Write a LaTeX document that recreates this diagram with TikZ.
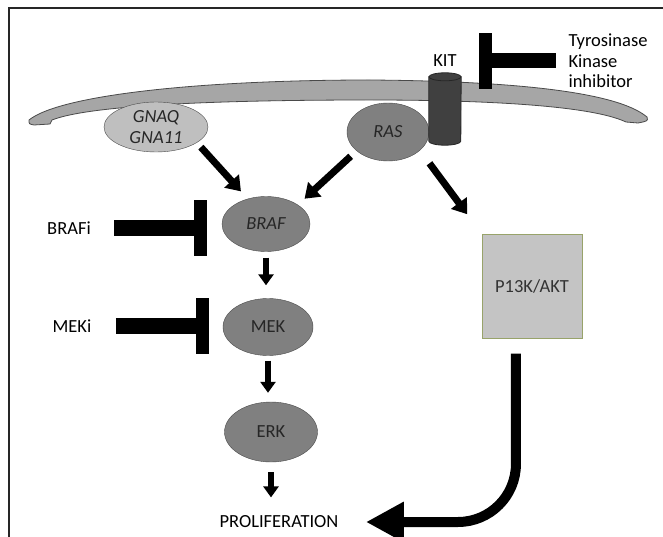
\documentclass[tikz,border=0pt]{standalone}
\usepackage{fontspec}
\setmainfont{Carlito}
\usetikzlibrary{arrows.meta,shapes.geometric,positioning}

\definecolor{memgray}{HTML}{A6A6A6}
\definecolor{edgegray}{HTML}{4A4A4A}
\definecolor{gnagray}{HTML}{BFBFBF}
\definecolor{protgray}{HTML}{808080}
\definecolor{kitgray}{HTML}{404040}
\definecolor{boxgray}{HTML}{C4C4C4}
\definecolor{boxedge}{HTML}{98A36A}
\newcommand\pathwayfont{\fontsize{18.5}{20.5}\selectfont}

\begin{document}
\begin{tikzpicture}[x=1pt,y=-1pt,font=\pathwayfont]
\tikzset{
  membrane/.style={draw=edgegray, fill=memgray, line width=0.8pt},
  protein/.style={ellipse, draw=edgegray, fill=protgray, inner sep=0pt, text=black!85},
  memprot/.style={protein, fill=gnagray, align=center},
  kitcyl/.style={rectangle, minimum width=32pt, minimum height=64pt, inner sep=0pt},
  kitpart/.style={draw=black!85, fill=kitgray, line width=0.8pt},
  pathbox/.style={rectangle, draw=boxedge, fill=boxgray, line width=1pt,
    minimum width=100pt, minimum height=104pt, text=black!80},
  act/.style={line width=7pt, -{Triangle[width=19pt,length=14pt]}},
  flow/.style={line width=5.5pt, -{Triangle[width=15pt,length=11pt]}},
  bigflow/.style={line width=10pt, -{Triangle[width=38pt,length=38pt]}},
  inhib/.style={line width=16pt, -{Rectangle[width=56pt,length=13pt]}}
}
\useasboundingbox (0,0) rectangle (663,537);
\draw[line width=1.5pt, black!85] (9,537) -- (9,8) -- (663,8);

% cell membrane
\draw[membrane] (29,120) .. controls (60,95) and (200,80) .. (370,80)
  .. controls (500,81) and (615,90) .. (647,117)
  .. controls (648,121) .. (638,123) -- (626,122)
  .. controls (590,105) and (480,100) .. (370,100)
  .. controls (220,100) and (90,105) .. (52,120)
  -- (50,124) -- (34,125) .. controls (29,124) .. (29,120) -- cycle;

% proteins
\node[memprot, minimum width=104pt, minimum height=50pt] (gnaq) at (156,127) {\itshape GNAQ\\\itshape GNA11};
\node[protein, minimum width=82pt, minimum height=58pt] (ras) at (388,132) {\itshape RAS};
\node[kitcyl] (kit) at (445,109) {};
\draw[kitpart] (kit.north west) -- (kit.south west)
  arc[start angle=180, end angle=0, x radius=16, y radius=4] -- (kit.north east) -- cycle;
\draw[kitpart] (kit.north) ellipse [x radius=16, y radius=4];
\node[above=7pt of kit] (kitlbl) {KIT};
\node[protein, minimum width=88pt, minimum height=55pt] (braf) at (266,224) {\itshape BRAF};
\node[protein, minimum width=90pt, minimum height=57pt] (mek) at (268,327) {MEK};
\node[protein, minimum width=93pt, minimum height=60pt] (erk) at (271,432) {ERK};
\node[pathbox] (pik) at (532,286) {P13K/AKT};
\node (prolif) at (279,522) {PROLIFERATION};

% inhibitors
\node (brafi) at (69,228) {BRAFi};
\node (meki) at (72,326) {MEKi};
\node[align=left] (tki) at (608,61) {Tyrosinase\\Kinase\\inhibitor};

\draw[inhib, shorten <=20pt, shorten >=15pt] (brafi.east) -- (brafi.east -| braf.west);
\draw[inhib, shorten <=21pt, shorten >=14pt] (meki.east) -- (meki.east -| mek.west);
\draw[inhib, line width=15pt, shorten <=9pt, shorten >=18pt] (tki.west) -- (tki.west -| kit.east);

% signalling
\draw[act, shorten <=6pt, shorten >=10pt] (gnaq.-21) -- (braf.126);
\draw[act, shorten <=8pt, shorten >=9pt] (ras.211) -- (braf.31);
\draw[act, shorten <=16pt, shorten >=24pt] (ras.-30) -- (pik.north west);
\draw[flow, shorten <=6pt, shorten >=13pt] (braf.south) -- (braf.south |- mek.north);
\draw[flow, shorten <=5pt, shorten >=9pt] (mek.south) -- (mek.south |- erk.north);
\draw[flow, shorten <=10pt, shorten >=15pt] (erk.south) -- (erk.south |- prolif.north);
\draw[bigflow, rounded corners=58pt, shorten <=15pt, shorten >=24pt] (pik.-107) |- (prolif.east);
\end{tikzpicture}
\end{document}
